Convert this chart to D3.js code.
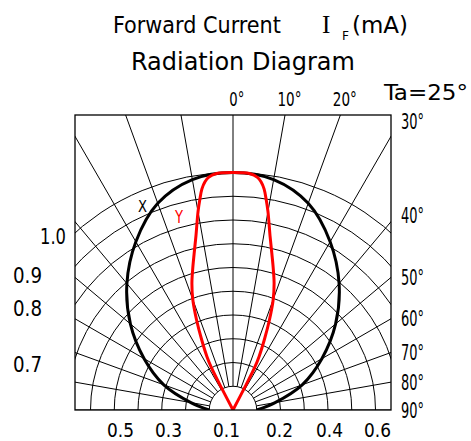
<!DOCTYPE html>
<html>
<head>
<meta charset="utf-8">
<script src="https://cdn.jsdelivr.net/npm/d3@7"></script>
<style>
  html, body { margin: 0; padding: 0; background: #fff; }
  svg { display: block; }
  text { font-family: "Liberation Sans Narrow", "DejaVu Sans Condensed", "Liberation Sans", sans-serif; fill: #000; }
</style>
</head>
<body>
<svg id="chart" width="471" height="441"></svg>
<script>
// ---------------- data ----------------
const ringValues = [0.1, 0.2, 0.3, 0.4, 0.5, 0.6, 0.7, 0.8, 0.9, 1.0];
const spokeAngles = [-90, -80, -70, -60, -50, -40, -30, -20, -10, 0, 10, 20, 30, 40, 50, 60, 70, 80, 90];

// X curve (black): angle (deg) -> relative intensity
const xAngles = [-90, -80, -70, -60, -50, -40, -30, -20, -10, 0, 10, 20, 30, 40, 50, 60, 70, 80, 90];
const xValues = [0.10, 0.18, 0.31, 0.432, 0.564, 0.695, 0.818, 0.926, 0.985, 1.0, 0.985, 0.926, 0.818, 0.695, 0.564, 0.432, 0.31, 0.18, 0.10];

// Y curve (red)
const yAngles = [-28, -27.5, -27, -26, -24, -22, -20, -18, -16, -14, -12, -10, -9, -8, -7, -6, -4, -2, 0, 2, 4, 6, 7, 8, 9, 10, 12, 14, 16, 18, 20, 22, 24, 26, 27, 27.5, 28];
const yValues = [0, 0.10, 0.20, 0.25, 0.325, 0.41, 0.495, 0.56, 0.616, 0.677, 0.75, 0.848, 0.895, 0.94, 0.968, 0.985, 0.998, 1.0, 1.0, 1.0, 0.998, 0.985, 0.968, 0.94, 0.895, 0.848, 0.75, 0.677, 0.616, 0.56, 0.495, 0.41, 0.325, 0.25, 0.20, 0.10, 0];

// tick / label texts
const topAngleLabels = [0, 10, 20];
const rightAngleLabels = [30, 40, 50, 60, 70, 80, 90];
const bottomLabels = ["0.5", "0.3", "0.1", "0.2", "0.4", "0.6"];
const leftLabels = ["1.0", "0.9", "0.8", "0.7"];
const titleLine1 = "Forward Current";
const titleUnit = ["I", "F", "(mA)"];
const titleLine2 = "Radiation Diagram";
const condition = "Ta=25°";
const seriesNames = ["X", "Y"];

// ---------------- layout ----------------
const cx = 233, cy = 410;
const box = { left: 75, right: 391, top: 115, bottom: 410 };
const r = d3.scaleLinear().domain([0, 1]).range([0, 237.5]);
const rad = d => d * Math.PI / 180;

const svg = d3.select("#chart");

svg.append("defs").append("clipPath").attr("id", "boxclip")
  .append("rect")
  .attr("x", box.left).attr("y", box.top)
  .attr("width", box.right - box.left).attr("height", box.bottom - box.top);

const plot = svg.append("g").attr("clip-path", "url(#boxclip)");
const g = plot.append("g").attr("transform", `translate(${cx},${cy})`);

// rings
g.selectAll("circle.ring").data(ringValues).join("circle")
  .attr("class", "ring")
  .attr("r", d => r(d))
  .attr("fill", "none").attr("stroke", "#000").attr("stroke-width", 1);

// spokes
const spoke = d3.lineRadial().angle(d => rad(d.a)).radius(d => r(d.v));
g.selectAll("path.spoke").data(spokeAngles).join("path")
  .attr("class", "spoke")
  .attr("d", a => spoke([{ a, v: 0.1 }, { a, v: 2 }]))
  .attr("fill", "none").attr("stroke", "#000").attr("stroke-width", 1);

// curves
const curveLine = d3.lineRadial()
  .angle(d => rad(d[0])).radius(d => r(d[1]))
  .curve(d3.curveCatmullRom.alpha(0.5));

g.append("path")
  .attr("d", curveLine(d3.zip(xAngles, xValues)))
  .attr("fill", "none").attr("stroke", "#000").attr("stroke-width", 3);

g.append("path")
  .attr("d", curveLine(d3.zip(yAngles, yValues)))
  .attr("fill", "none").attr("stroke", "#ff0000").attr("stroke-width", 3)
  .attr("stroke-linejoin", "round");

// frame
svg.append("rect")
  .attr("x", box.left).attr("y", box.top)
  .attr("width", box.right - box.left).attr("height", box.bottom - box.top)
  .attr("fill", "none").attr("stroke", "#000").attr("stroke-width", 1.3);

// ---------------- texts ----------------
// text drawn at its natural size, then scaled horizontally to the wanted width
function txt(s, x, y, size, width, color) {
  const t = svg.append("text").attr("x", 0).attr("y", 0)
    .attr("font-size", size).text(s);
  if (color) t.style("fill", color);
  let sx = 1;
  if (width) {
    const natural = t.node().getComputedTextLength();
    if (natural > 0) sx = width / natural;
  }
  t.attr("transform", `translate(${x},${y}) scale(${sx},1)`);
  return t;
}

txt(titleLine1, 113, 33, 23, 168);
txt(titleUnit[0], 322, 33, 25).style("font-family", "'Liberation Serif', 'DejaVu Serif', serif");
txt(titleUnit[1], 342, 40, 13, 7);
txt(titleUnit[2], 352, 33, 23, 56);
txt(titleLine2, 131, 70, 24, 224);
txt(condition, 384, 100, 21, 84);

// top angle labels: digits centred on where the spoke meets the top edge
topAngleLabels.forEach(a => {
  const x = cx + (cy - box.top) * Math.tan(rad(a));
  const digits = String(a).length;
  txt(a + "°", x - digits * 3.75, 106, 19, digits === 1 ? 15 : 24);
});

// right angle labels, next to where the spoke meets the right edge
rightAngleLabels.forEach(a => {
  const edgeY = cy - (box.right - cx) / Math.tan(rad(a));
  let yc = edgeY;
  if (a === 30) yc = box.top + 6;
  if (a === 40) yc = edgeY - 6.5;
  txt(a + "°", 401, yc + 7.5, 21, 23);
});

// bottom labels
const bottomX = [107, 155, 213, 266, 316, 364];
bottomLabels.forEach((s, i) => txt(s, bottomX[i], 437, 19, 27));

// left labels
const leftPos = [[40, 244], [13, 282.5], [13, 316], [13, 372]];
leftLabels.forEach((s, i) => txt(s, leftPos[i][0], leftPos[i][1], 21, leftPos[i][0] === 40 ? 26 : 29));

// series labels
txt(seriesNames[0], 138, 212, 16, 9);
txt(seriesNames[1], 175, 223, 17, 8, "#ff0000");
</script>
</body>
</html>
